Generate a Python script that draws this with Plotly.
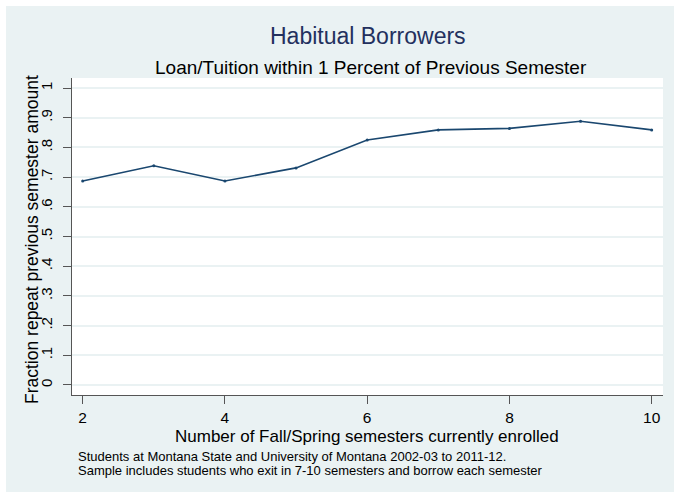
import plotly.graph_objects as go

semesters = [2, 3, 4, 5, 6, 7, 8, 9, 10]
fraction_repeat = [0.687, 0.738, 0.687, 0.731, 0.825, 0.859, 0.864, 0.888, 0.859]
y_tick_vals = [0, 0.1, 0.2, 0.3, 0.4, 0.5, 0.6, 0.7, 0.8, 0.9, 1]
y_tick_text = ["0", ".1", ".2", ".3", ".4", ".5", ".6", ".7", ".8", ".9", "1"]
x_tick_vals = [2, 4, 6, 8, 10]

title = "Habitual Borrowers"
subtitle = "Loan/Tuition within 1 Percent of Previous Semester"
x_title = "Number of Fall/Spring semesters currently enrolled"
y_title = "Fraction repeat previous semester amount"
note_lines = ["Students at Montana State and University of Montana 2002-03 to 2011-12.",
              "Sample includes students who exit in 7-10 semesters and borrow each semester"]

FONT = "Liberation Sans, Arial, Helvetica, sans-serif"
BG = "#eaf2f3"
GRID = "#eaf2f3"

fig = go.Figure()
fig.add_trace(go.Scatter(
    x=semesters, y=fraction_repeat, mode="lines+markers",
    line=dict(color="#1a476f", width=1.6),
    marker=dict(size=3, color="#1a476f"),
    showlegend=False,
))

W, H = 674, 492
L, R, T, B = 72, 11, 78, 97
pw, ph = W - L - R, H - T - B

def px_x(x):
    return (x - L) / pw

def px_y(y):
    return 1 - (y - T) / ph

fig.update_layout(
    width=W, height=H,
    margin=dict(l=L, r=R, t=T, b=B),
    paper_bgcolor=BG,
    plot_bgcolor="white",
    font=dict(family=FONT, color="black"),
    xaxis=dict(
        range=[1.85, 10.159], tickvals=x_tick_vals,
        showgrid=False, zeroline=False,
        showline=True, linecolor="#555555", linewidth=1,
        ticks="outside", ticklen=8, tickcolor="#555555",
        tickfont=dict(size=15.5, family=FONT, color="black"),
    ),
    yaxis=dict(
        range=[-0.0337, 1.0337], tickvals=y_tick_vals, ticktext=y_tick_text,
        showgrid=True, gridcolor=GRID, gridwidth=1.5, zeroline=False,
        showline=True, linecolor="#555555", linewidth=1,
        ticks="outside", ticklen=8, tickcolor="#555555",
        tickangle=-90, ticklabelstandoff=5,
        tickfont=dict(size=15, family=FONT, color="black"),
    ),
    shapes=[
        dict(type="rect", xref="paper", yref="paper",
             x0=px_x(0), x1=px_x(674), y0=px_y(6), y1=px_y(0),
             fillcolor="white", line=dict(width=0), layer="below"),
        dict(type="rect", xref="paper", yref="paper",
             x0=px_x(0), x1=px_x(6), y0=px_y(492), y1=px_y(0),
             fillcolor="white", line=dict(width=0), layer="below"),
    ],
)

ann = []
ann.append(dict(text=title, x=px_x(367.5), y=px_y(36.5), xref="paper", yref="paper",
                showarrow=False, xanchor="center", yanchor="middle",
                font=dict(size=23, color="#23305e", family=FONT)))
ann.append(dict(text=subtitle, x=px_x(371), y=px_y(67.5), xref="paper", yref="paper",
                showarrow=False, xanchor="center", yanchor="middle",
                font=dict(size=19, color="black", family=FONT)))
ann.append(dict(text=x_title, x=px_x(367), y=px_y(436), xref="paper", yref="paper",
                showarrow=False, xanchor="center", yanchor="middle",
                font=dict(size=17, color="black", family=FONT)))
ann.append(dict(text=y_title, x=px_x(32), y=px_y(240), xref="paper", yref="paper",
                showarrow=False, xanchor="center", yanchor="middle", textangle=-90,
                font=dict(size=17.5, color="black", family=FONT)))
for i, line in enumerate(note_lines):
    ann.append(dict(text=line, x=px_x(76), y=px_y(457 + 13 * i), xref="paper", yref="paper",
                    showarrow=False, xanchor="left", yanchor="middle",
                    font=dict(size=13, color="black", family=FONT)))
fig.update_layout(annotations=ann)

fig.write_html("out.html")
